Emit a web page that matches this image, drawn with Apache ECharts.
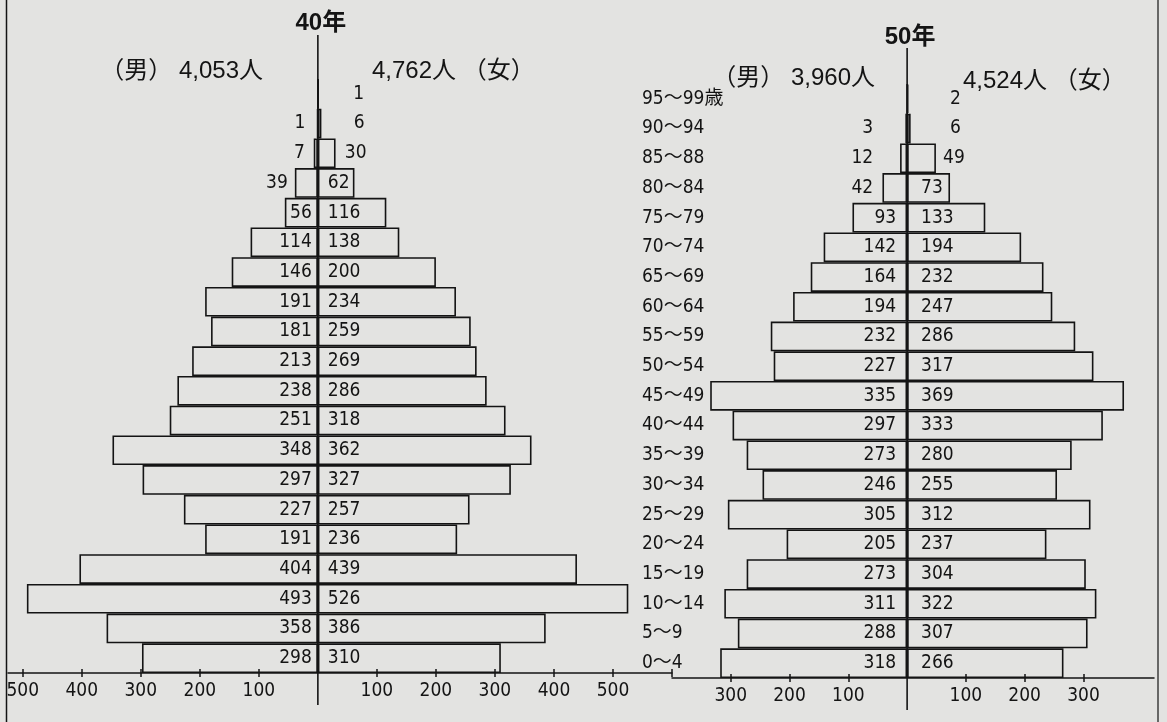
<!DOCTYPE html>
<html><head><meta charset="utf-8">
<script src="https://cdn.jsdelivr.net/npm/echarts@6/dist/echarts.min.js"></script>
<style>html,body{margin:0;padding:0;background:#e3e3e1;}#c{width:1167px;height:722px;}</style>
</head><body><div id="c"></div>
<script>
const ageGroups = ['95～99歳','90～94','85～88','80～84','75～79','70～74','65～69','60～64','55～59','50～54','45～49','40～44','35～39','30～34','25～29','20～24','15～19','10～14','5～9','0～4'];
const male40   = [0,1,7,39,56,114,146,191,181,213,238,251,348,297,227,191,404,493,358,298];
const female40 = [1,6,30,62,116,138,200,234,259,269,286,318,362,327,257,236,439,526,386,310];
const male50   = [0,3,12,42,93,142,164,194,232,227,335,297,273,246,305,205,273,311,288,318];
const female50 = [2,6,49,73,133,194,232,247,286,317,369,333,280,255,312,237,304,322,307,266];
const yearTitles = ['40年','50年'];
const totals40 = ['（男） 4,053人','4,762人 （女）'];
const totals50 = ['（男） 3,960人','4,524人 （女）'];
const tickLabels40 = [-500,-400,-300,-200,-100,100,200,300,400,500];
const tickMarks40  = [-500,-400,-300,-200,-100,100,200,300,400,500,600];
const tickLabels50 = [-300,-200,-100,100,200,300];

const INK = '#141414';
const NARROW = "'Liberation Sans Narrow','DejaVu Sans Condensed','Noto Sans CJK JP',sans-serif";
const CJK = "'Liberation Sans','Noto Sans CJK JP',sans-serif";

function barSeries(values, sign, xi, yi, baseDist, overrides) {
  return {
    type: 'bar', xAxisIndex: xi, yAxisIndex: yi,
    barWidth: '100%', barGap: '-100%', silent: true,
    itemStyle: { color: 'rgba(0,0,0,0)', borderColor: INK, borderWidth: 1.6 },
    label: {
      show: true, position: sign < 0 ? 'insideRight' : 'insideLeft', distance: baseDist,
      formatter: p => String(Math.abs(p.value)),
      fontFamily: NARROW, fontSize: 19, color: INK
    },
    data: values.map((v, i) => {
      const item = { value: sign * v };
      if (v === 0) item.label = { show: false };
      else if (overrides[i] != null) item.label = { distance: overrides[i] };
      return item;
    })
  };
}

function xAxes(gi, min, max, marks, labels) {
  return [
    { type: 'value', gridIndex: gi, position: 'bottom', min: min, max: max,
      splitLine: { show: false },
      axisLine: { show: true, onZero: false, lineStyle: { color: INK, width: 1.5 } },
      axisTick: { show: true, length: 4, customValues: marks, lineStyle: { color: INK, width: 1.5 } },
      axisLabel: { show: true, customValues: labels, formatter: v => String(Math.abs(v)),
        fontFamily: NARROW, fontSize: 19, color: INK, margin: 9 } },
    { type: 'value', gridIndex: gi, position: 'bottom', min: min, max: max,
      splitLine: { show: false }, axisLine: { show: false }, axisLabel: { show: false },
      axisTick: { show: true, inside: true, length: 4, customValues: marks, lineStyle: { color: INK, width: 1.5 } } }
  ];
}

const chart = echarts.init(document.getElementById('c'), null, { renderer: 'canvas' });
chart.setOption({
  animation: false,
  backgroundColor: '#e3e3e1',
  grid: [
    { left: 8, right: 495, top: 79, bottom: 49 },
    { left: 672, right: 13, top: 84, bottom: 44 }
  ],
  xAxis: [].concat(
    xAxes(0, -525, 600, tickMarks40, tickLabels40),
    xAxes(1, -400, 420, tickLabels50, tickLabels50)
  ),
  yAxis: [
    { type: 'category', gridIndex: 0, inverse: true, data: ageGroups,
      axisLine: { show: false }, axisTick: { show: false }, axisLabel: { show: false } },
    { type: 'category', gridIndex: 1, inverse: true, data: ageGroups, position: 'left',
      axisLine: { show: false }, axisTick: { show: false },
      axisLabel: { show: true, align: 'left', margin: 30, fontFamily: NARROW, fontSize: 19, color: INK,
        padding: [4, 0, 0, 0] } }
  ],
  series: [
    barSeries(male40, -1, 0, 0, 6, { 1: 13, 2: 13, 3: 30 }),
    barSeries(female40, 1, 0, 0, 10, { 0: 36, 1: 36, 2: 27 }),
    barSeries(male50, -1, 2, 1, 11, { 1: 34, 2: 34, 3: 34 }),
    barSeries(female50, 1, 2, 1, 14, { 0: 43, 1: 43, 2: 36 })
  ]
});

const c0 = chart.convertToPixel({ xAxisIndex: 0 }, 0);
const c1 = chart.convertToPixel({ xAxisIndex: 2 }, 0);
const line = (x1, y1, x2, y2, w) => ({ type: 'line', silent: true,
  shape: { x1: x1, y1: y1, x2: x2, y2: y2 }, style: { stroke: INK, lineWidth: w || 1.5 } });
const txt = (s, x, y, align, font) => ({ type: 'text', silent: true,
  style: { text: s, x: x, y: y, textAlign: align, textVerticalAlign: 'middle', font: font, fill: INK } });
chart.setOption({
  graphic: [
    line(c0, 35, c0, 705, 1.6),
    line(c1, 48, c1, 710, 1.6),
    line(6.5, 0, 6.5, 722, 1.5),
    line(1158, 0, 1158, 722, 1.2),
    txt(yearTitles[0], c0 + 3, 23, 'center', "bold 24px " + CJK),
    txt(yearTitles[1], c1 + 3, 37, 'center', "bold 24px " + CJK),
    txt(totals40[0], 263, 71, 'right', "24px " + CJK),
    txt(totals40[1], 372, 71, 'left', "24px " + CJK),
    txt(totals50[0], 875, 78, 'right', "24px " + CJK),
    txt(totals50[1], 963, 81, 'left', "24px " + CJK)
  ]
});
</script></body></html>
